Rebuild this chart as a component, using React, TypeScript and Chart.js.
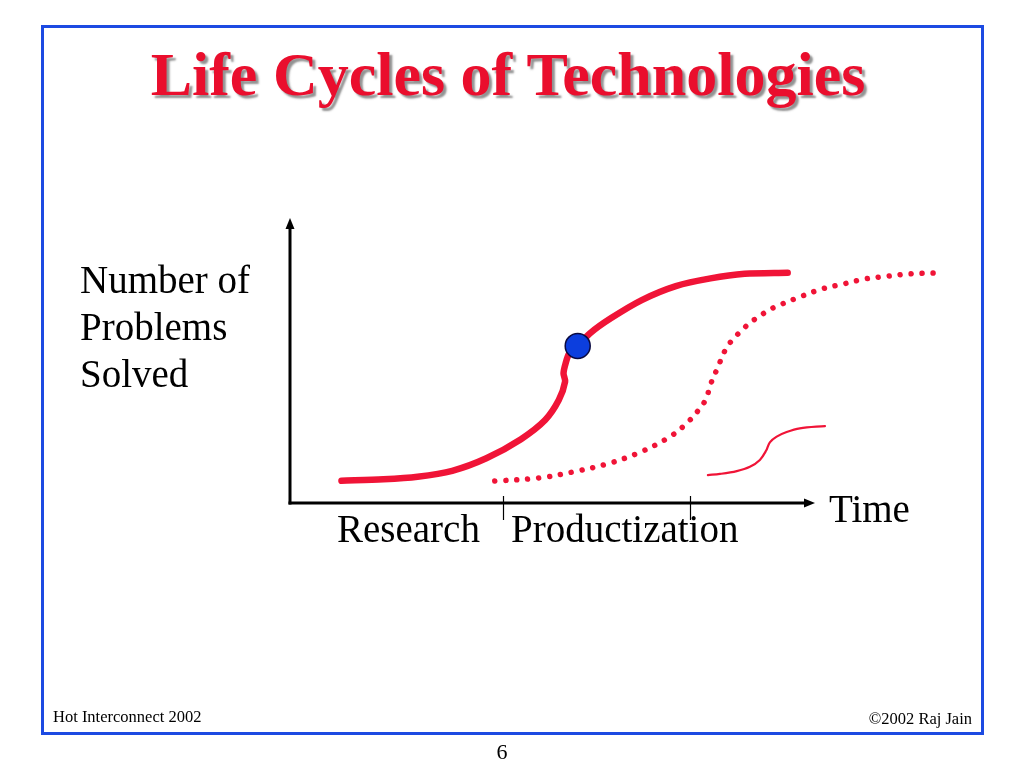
import React, { useEffect, useRef } from "react";
import { Chart, registerables } from "chart.js";

Chart.register(...registerables);

// ---- data (time units 0..125, problems units 0..100) ----
const researchTime = [9.8, 17.8, 24.3, 30.9, 37.4, 44.0, 48.6, 51.2, 52.4, 52.1, 52.5, 53.2, 54.8, 57.1, 61.1, 67.0, 73.5, 80.1, 86.6, 94.8];
const researchProblems = [7.8, 8.3, 9.2, 11.3, 15.7, 22.4, 29.1, 36.1, 42.6, 45.5, 49.0, 52.5, 55.1, 59.5, 64.8, 71.2, 76.1, 78.8, 80.4, 80.8];

const nextTime = [39.0, 47.6, 53.9, 60.4, 66.3, 72.0, 75.4, 78.3, 79.4, 80.0, 81.5, 82.3, 83.2, 84.6, 86.1, 87.8, 89.5, 91.2, 93.3, 97.1, 101.3, 105.3, 109.5, 113.9, 118.1, 122.5];
const nextProblems = [7.7, 8.8, 10.9, 13.7, 17.5, 22.8, 27.7, 33.7, 37.2, 41.1, 47.7, 51.2, 54.7, 57.9, 60.7, 63.5, 65.6, 67.7, 69.5, 72.3, 75.1, 76.8, 78.6, 79.6, 80.4, 80.7];

const laterTime = [79.6, 81.9, 85.1, 87.6, 89.5, 90.7, 91.4, 92.7, 94.6, 97.1, 101.9];
const laterProblems = [9.8, 10.2, 11.2, 12.7, 15.1, 18.4, 21.3, 23.3, 24.9, 26.2, 27.0];

const currentTime = [54.8];
const currentProblems = [55.1];

const phaseBoundaries = [40.6, 76.2];
const timeAxisEnd = 100;

const titleText = "Life Cycles of Technologies";
const yAxisLabel = ["Number of", "Problems", "Solved"];
const phaseLabels = ["Research", "Productization"];
const xAxisLabel = "Time";
const footerLeft = "Hot Interconnect 2002";
const footerRight = "\u00A92002 Raj Jain";
const pageNumber = "6";

const RED = "rgb(240,20,55)";
const SERIF = "'Liberation Serif', 'Times New Roman', serif";

const toPoints = (xs: number[], ys: number[]) => xs.map((x, i) => ({ x, y: ys[i] }));

const axesPlugin = {
  id: "slideAxes",
  beforeDatasetsDraw(chart: any) {
    const { ctx, chartArea, scales } = chart;
    const xs = scales.x;
    const left = chartArea.left;
    const bottom = chartArea.bottom;
    const top = chartArea.top;
    const xEnd = xs.getPixelForValue(timeAxisEnd);
    ctx.save();
    ctx.strokeStyle = "#000";
    ctx.fillStyle = "#000";
    ctx.lineWidth = 3;
    ctx.lineCap = "butt";
    // y axis
    ctx.beginPath();
    ctx.moveTo(left, bottom + 1.5);
    ctx.lineTo(left, top + 8);
    ctx.stroke();
    ctx.beginPath();
    ctx.moveTo(left, top);
    ctx.lineTo(left - 4.5, top + 11);
    ctx.lineTo(left + 4.5, top + 11);
    ctx.closePath();
    ctx.fill();
    // x axis
    ctx.beginPath();
    ctx.moveTo(left - 1.5, bottom);
    ctx.lineTo(xEnd - 8, bottom);
    ctx.stroke();
    ctx.beginPath();
    ctx.moveTo(xEnd, bottom);
    ctx.lineTo(xEnd - 11, bottom - 4.5);
    ctx.lineTo(xEnd - 11, bottom + 4.5);
    ctx.closePath();
    ctx.fill();
    // phase ticks
    ctx.lineWidth = 1.2;
    phaseBoundaries.forEach((v) => {
      const px = Math.round(xs.getPixelForValue(v)) + 0.5;
      ctx.beginPath();
      ctx.moveTo(px, bottom - 7);
      ctx.lineTo(px, bottom + 17);
      ctx.stroke();
    });
    ctx.restore();
  },
};

function TextAt(props: { x: number; baseline: number; size: number; children: any; style?: any; align?: string; width?: number }) {
  const { x, baseline, size, children, style, align, width } = props;
  const top = baseline - 0.8375 * size;
  const base: any = {
    position: "absolute",
    top,
    fontFamily: SERIF,
    fontSize: size,
    lineHeight: `${size}px`,
    whiteSpace: "nowrap",
    color: "#000",
  };
  if (align === "center") {
    base.left = x - (width || 0) / 2;
    base.width = width;
    base.textAlign = "center";
  } else if (align === "right") {
    base.right = 1024 - x;
    base.textAlign = "right";
  } else {
    base.left = x;
  }
  return <div style={{ ...base, ...(style || {}) }}>{children}</div>;
}

export default function App() {
  const canvasRef = useRef<HTMLCanvasElement | null>(null);

  useEffect(() => {
    const canvas = canvasRef.current;
    if (!canvas) return;
    const chart = new Chart(canvas, {
      type: "scatter",
      data: {
        datasets: [
          {
            label: "Current position",
            data: toPoints(currentTime, currentProblems),
            showLine: false,
            pointRadius: 12.5,
            pointHoverRadius: 12.5,
            pointBackgroundColor: "rgb(12,62,222)",
            pointBorderColor: "#0a0a40",
            pointBorderWidth: 1.5,
          },
          {
            label: "Current technology",
            data: toPoints(researchTime, researchProblems),
            showLine: true,
            borderColor: RED,
            borderWidth: 6.5,
            borderCapStyle: "round",
            borderJoinStyle: "round",
            tension: 0.3,
            pointRadius: 0,
            pointHoverRadius: 0,
          },
          {
            label: "Next technology",
            data: toPoints(nextTime, nextProblems),
            showLine: true,
            borderColor: RED,
            borderWidth: 5.5,
            borderCapStyle: "round",
            borderDash: [0.01, 11],
            tension: 0.35,
            pointRadius: 0,
            pointHoverRadius: 0,
          },
          {
            label: "Later technology",
            data: toPoints(laterTime, laterProblems),
            showLine: true,
            borderColor: RED,
            borderWidth: 2.2,
            borderCapStyle: "round",
            tension: 0.35,
            pointRadius: 0,
            pointHoverRadius: 0,
          },
        ],
      } as any,
      options: {
        animation: false,
        responsive: false,
        devicePixelRatio: 1,
        clip: false as any,
        layout: { padding: { left: 290, top: 218, right: 77.75, bottom: 265 } },
        plugins: { legend: { display: false }, tooltip: { enabled: false }, title: { display: false } },
        events: [],
        scales: {
          x: { type: "linear", min: 0, max: 125, display: false },
          y: { type: "linear", min: 0, max: 100, display: false },
        },
      } as any,
      plugins: [axesPlugin],
    });
    return () => chart.destroy();
  }, []);

  return (
    <div style={{ position: "absolute", left: 0, top: 0, width: 1024, height: 768, background: "#fff", overflow: "hidden" }}>
      <div
        style={{
          position: "absolute",
          left: 41,
          top: 25,
          width: 943,
          height: 710,
          boxSizing: "border-box",
          border: "3px solid rgb(28,74,226)",
        }}
      />
      <canvas ref={canvasRef} width={1024} height={768} style={{ position: "absolute", left: 0, top: 0, width: 1024, height: 768 }} />
      <TextAt
        x={508}
        width={1000}
        align="center"
        baseline={95}
        size={62}
        style={{ fontWeight: "bold", color: "rgb(234,14,45)", textShadow: "3px 3px 2px rgba(110,110,110,0.75)" }}
      >
        {titleText}
      </TextAt>
      {yAxisLabel.map((t, i) => (
        <TextAt key={t} x={80} baseline={293 + i * 47} size={39}>
          {t}
        </TextAt>
      ))}
      <TextAt x={337} baseline={542} size={39}>
        {phaseLabels[0]}
      </TextAt>
      <TextAt x={511} baseline={542} size={39}>
        {phaseLabels[1]}
      </TextAt>
      <TextAt x={829} baseline={522} size={39}>
        {xAxisLabel}
      </TextAt>
      <TextAt x={53} baseline={723} size={16.5}>
        {footerLeft}
      </TextAt>
      <TextAt x={972} align="right" baseline={725} size={16.5}>
        {footerRight}
      </TextAt>
      <TextAt x={502} width={60} align="center" baseline={759} size={22}>
        {pageNumber}
      </TextAt>
    </div>
  );
}
